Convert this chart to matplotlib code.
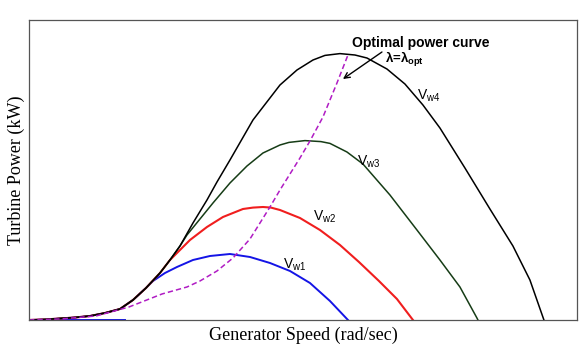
import numpy as np
import matplotlib.pyplot as plt

plt.rcParams['mathtext.fontset'] = 'custom'
plt.rcParams['mathtext.rm'] = 'Liberation Sans'
plt.rcParams['mathtext.bf'] = 'Liberation Sans:bold'

# -----------------------------
# DATA
# -----------------------------
# shared low-speed part of all the power curves
env_x = [0, 8, 15.5, 23, 30.5, 38, 45.5, 52, 58.5]
env_y = [0, 0.25, 0.75, 1.25, 2, 3.5, 5.5, 10, 16]

vw1_x = [62, 68, 74, 82, 90.5, 100.5, 110.5, 120.5, 130.5, 140.5, 150.5, 159.5]
vw1_y = [19.5, 23.5, 26.5, 30, 32, 33, 31.5, 28.5, 24.5, 18.5, 9.5, 0]
vw1_base_x = [0, 48]
vw1_base_y = [0, 0]

vw2_x = [65.5, 70.5, 74, 80.5, 89, 97, 107, 112, 117, 121, 125.5, 135.5,
         145.5, 155.5, 165, 175, 184, 192]
vw2_y = [23.5, 30, 33.5, 40, 46.5, 51.5, 55.5, 56.2, 56.5, 56.2, 55, 51,
         45, 37.5, 29, 19.5, 10.5, 0]

vw3_x = [65.5, 70.5, 75.5, 79, 92, 100.5, 109, 117, 125.5, 130, 138, 146,
         150.5, 159, 167, 180.5, 194, 205.5, 215.5, 224, 224.5]
vw3_y = [23.5, 30, 37, 42.5, 58.5, 68.5, 77, 83.5, 87.5, 88.8, 89.7, 89.2,
         88.3, 84, 78, 62.5, 45, 30, 16.5, 1, 0]

vw4_x = [65.5, 70.5, 75.5, 82, 89, 94, 100.5, 112, 125.5, 134, 142, 148,
         155.5, 163, 169, 179, 188, 197, 205.5, 218, 230.5, 242, 250.5, 257.5]
vw4_y = [23.5, 30, 37, 48.5, 60, 69, 80, 100, 117.5, 125, 130, 132.3,
         133.2, 132.5, 131, 125.5, 118, 107.5, 96, 76, 55.5, 37, 20, 0]

opt_x = [0, 15.5, 33.5, 50, 66.5, 79, 85.5, 94, 102, 110.5, 120.5, 125.5,
         135.5, 140.5, 147, 154, 159.5]
opt_y = [0, 0.5, 2, 6.5, 13, 16.5, 19.5, 24.5, 31, 40.5, 56.5, 65,
         81, 89.5, 101.5, 118.5, 132.5]

curve_labels = ['w1', 'w2', 'w3', 'w4']

# -----------------------------
# PLOT
# -----------------------------
fig = plt.figure(figsize=(5.86, 3.48), dpi=100)
ax = fig.add_axes([0.0495, 0.0805, 0.935, 0.862])

ax.plot(vw1_base_x, vw1_base_y, color='#1414e6', lw=1.4)
ax.plot(env_x + vw1_x, env_y + vw1_y, color='#1414e6', lw=1.4)
ax.plot(env_x + vw2_x, env_y + vw2_y, color='#f01e1e', lw=1.5)
ax.plot(env_x + vw3_x, env_y + vw3_y, color='#163c16', lw=1.1)
ax.plot(env_x + vw4_x, env_y + vw4_y, color='black', lw=1.1)
ax.plot(opt_x, opt_y, color='#b01cc4', lw=1.1, linestyle=(0, (3.5, 2)))

# curve labels
label_pos = [(127, 25.5), (142, 49.5), (164, 77), (194, 110)]
for name, (lx, ly) in zip(curve_labels, label_pos):
    ax.text(lx, ly, 'V$_{\\rm %s}$' % name, fontsize=10,
            family='Liberation Sans', ha='left', va='baseline')

ax.text(161.5, 136.5, 'Optimal power curve', fontsize=10, fontweight='bold',
        family='Liberation Sans', ha='left', va='baseline')
ax.text(178, 128.5, 'λ=λ$_{\\mathbf{opt}}$', fontsize=9.5, fontweight='bold',
        family='Liberation Sans', ha='left', va='baseline')
ax.annotate('', xy=(157, 120.5), xytext=(176.5, 134),
            arrowprops=dict(arrowstyle='->', color='black', lw=1.0,
                            shrinkA=0, shrinkB=0))

ax.set_xlim(0, 274)
ax.set_ylim(0, 150)
ax.set_xticks([])
ax.set_yticks([])
for sp in ax.spines.values():
    sp.set_color('#555555')
    sp.set_linewidth(0.9)

ax.set_xlabel('Generator Speed (rad/sec)', family='Liberation Serif',
              fontsize=13, labelpad=5)
ax.set_ylabel('Turbine Power (kW)', family='Liberation Serif',
              fontsize=13, labelpad=3)

fig.savefig('out.png', dpi=100)
